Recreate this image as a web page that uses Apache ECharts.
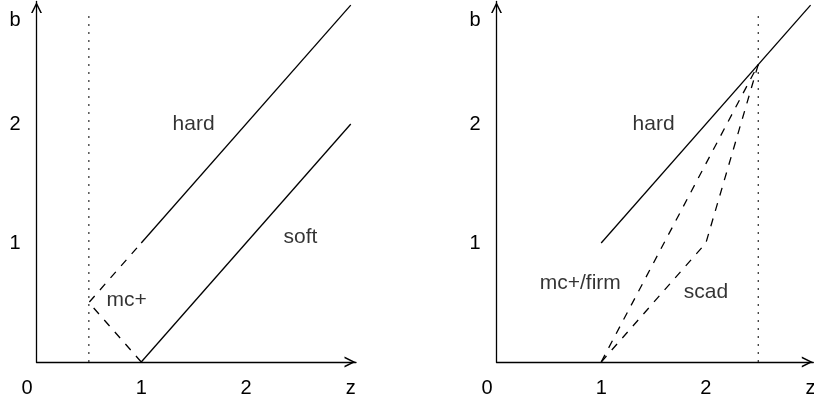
<!DOCTYPE html>
<html>
<head>
<meta charset="utf-8">
<script src="https://cdn.jsdelivr.net/npm/echarts@6/dist/echarts.min.js"></script>
<style>
  html, body { margin: 0; padding: 0; background: #fff; }
  #chart { width: 814px; height: 402px; }
</style>
</head>
<body>
<div id="chart"></div>
<script>
// Thresholding rules with lambda = 1: estimate b plotted against the observed z.

// Axis ticks
const xTickValues = [0, 1, 2, 3];
const xTickLabels = ['0', '1', '2', 'z'];
const yTickValues = [1, 2];
const yTickLabels = ['1', '2'];
const yAxisTitle = 'b';

// Left panel: hard, soft and mc+ rules
const hardLeft = [[1, 1], [3, 3]];
const softLeft = [[1, 0], [3, 2]];
const mcplusLeft = [[1, 0], [0.5, 0.5], [1, 1]];
const refLeft = [[0.5, 0], [0.5, 2.93]];
const notesLeft = [['hard', 1.5, 2], ['soft', 2.52, 1.05], ['mc+', 0.86, 0.52]];

// Right panel: hard, mc+/firm and scad rules
const hardRight = [[1, 1], [3, 3]];
const firmRight = [[1, 0], [2.5, 2.5]];
const scadRight = [[1, 0], [2, 1], [2.5, 2.5]];
const refRight = [[2.5, 0], [2.5, 2.93]];
const notesRight = [['hard', 1.5, 2], ['mc+/firm', 0.8, 0.66], ['scad', 2, 0.59]];

const FONT = '"Liberation Sans", Arial, Helvetica, sans-serif';
const INK = '#000';
// open chevron used as the arrow head at the end of each axis
const ARROW = 'path://M5,0 L10,10 L8.5,10 L5,3 L1.5,10 L0,10 Z';

function xAxisFor(gridIndex, max) {
  return {
    type: 'value', gridIndex: gridIndex, min: 0, max: max, interval: 1,
    splitLine: { show: false },
    axisTick: { show: false },
    axisLine: {
      show: true, onZero: false,
      symbol: ['none', ARROW], symbolSize: [11, 12], symbolOffset: [0, -6],
      lineStyle: { color: INK, width: 1.3 }
    },
    axisLabel: {
      margin: 16, fontSize: 20, fontFamily: FONT, color: INK,
      formatter: function (v) {
        const i = xTickValues.indexOf(v);
        if (i < 0) return '';
        return i === 0 ? '{o|' + xTickLabels[i] + '}' : xTickLabels[i];
      },
      rich: { o: { padding: [0, 19, 0, 0], fontSize: 20, fontFamily: FONT, color: INK } }
    }
  };
}

function yAxisFor(gridIndex) {
  return {
    type: 'value', gridIndex: gridIndex, min: 0, max: 3.03, interval: 1,
    name: yAxisTitle, nameLocation: 'end', nameGap: -19,
    nameTextStyle: {
      fontSize: 20, fontFamily: FONT, color: INK,
      align: 'right', verticalAlign: 'middle', padding: [0, 16, 0, 0]
    },
    splitLine: { show: false },
    axisTick: { show: false },
    axisLine: {
      show: true, onZero: false,
      symbol: ['none', ARROW], symbolSize: [11, 12], symbolOffset: [0, -6],
      lineStyle: { color: INK, width: 1.3 }
    },
    axisLabel: {
      margin: 16, fontSize: 20, fontFamily: FONT, color: INK,
      formatter: function (v) {
        const i = yTickValues.indexOf(v);
        return i < 0 ? '' : yTickLabels[i];
      }
    }
  };
}

function lineSeries(idx, data, type, width) {
  return {
    type: 'line', xAxisIndex: idx, yAxisIndex: idx, data: data,
    symbol: 'none', showSymbol: false, silent: true, animation: false,
    lineStyle: { color: INK, width: width, type: type }
  };
}

function noteSeries(idx, notes) {
  return {
    type: 'scatter', xAxisIndex: idx, yAxisIndex: idx, silent: true, animation: false,
    symbolSize: 1, itemStyle: { color: 'rgba(0,0,0,0)' },
    data: notes.map(function (n) { return { name: n[0], value: [n[1], n[2]] }; }),
    label: {
      show: true, position: 'inside', formatter: '{b}',
      fontSize: 21, fontFamily: FONT, color: INK
    }
  };
}

const DASH = [8, 8];
const DOT = [2, 6];

const chart = echarts.init(document.getElementById('chart'), null, { renderer: 'canvas' });
chart.setOption({
  backgroundColor: '#fff',
  animation: false,
  grid: [
    { left: 36.5, top: 1.5, width: 319.5, height: 360.5, outerBoundsMode: 'none', containLabel: false },
    { left: 496.5, top: 1.5, width: 316.8, height: 360.5, outerBoundsMode: 'none', containLabel: false }
  ],
  xAxis: [xAxisFor(0, 3.05), xAxisFor(1, 3.026)],
  yAxis: [yAxisFor(0), yAxisFor(1)],
  series: [
    lineSeries(0, refLeft, DOT, 1),
    lineSeries(0, hardLeft, 'solid', 1.3),
    lineSeries(0, softLeft, 'solid', 1.3),
    lineSeries(0, mcplusLeft, DASH, 1.3),
    noteSeries(0, notesLeft),
    lineSeries(1, refRight, DOT, 1),
    lineSeries(1, hardRight, 'solid', 1.3),
    lineSeries(1, firmRight, DASH, 1.3),
    lineSeries(1, scadRight, DASH, 1.3),
    noteSeries(1, notesRight)
  ]
});
</script>
</body>
</html>
